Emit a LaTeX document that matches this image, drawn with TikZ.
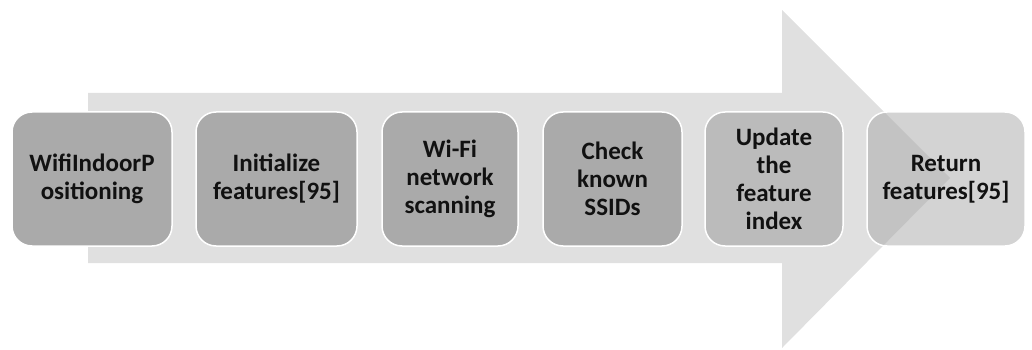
\documentclass[tikz,border=0pt]{standalone}
\usepackage{fontspec}
\setmainfont{Carlito}
\definecolor{arrowgray}{HTML}{E0E0E0}
\definecolor{boxgray}{HTML}{AAAAAA}
\definecolor{inkgray}{HTML}{111111}
\begin{document}
\begin{tikzpicture}[x=1pt,y=-1pt,
  stepbox/.style={rectangle, rounded corners=20pt, draw=white, line width=1.5pt,
    fill=boxgray, minimum height=134pt, inner sep=0pt, outer sep=0pt,
    align=center, text=inkgray,
    font=\bfseries\fontsize{25}{28}\selectfont}]
  \useasboundingbox (0,0) rectangle (1032,350);
  % large background arrow
  \fill[arrowgray] (88,93) -- (782,93) -- (782,10) -- (950,178) -- (782,348)
    -- (782,263) -- (88,263) -- cycle;
  % process steps
  \node[stepbox, minimum width=160pt] (b1) at (92,179) {WifiIndoorP\\ositioning};
  \node[stepbox, minimum width=161pt] (b2) at (276.5,179) {Initialize\\features[95]};
  \node[stepbox, minimum width=136pt] (b3) at (450,179) {Wi-Fi\\network\\scanning};
  \node[stepbox, minimum width=139pt] (b4) at (612.5,179) {Check\\known\\SSIDs};
  \node[stepbox, minimum width=138pt, fill opacity=0.67, text opacity=1] (b5) at (774,179) {Update\\the\\feature\\index};
  \node[stepbox, minimum width=158pt, fill opacity=0.52, text opacity=1] (b6) at (946,179) {Return\\features[95]};
\end{tikzpicture}
\end{document}
